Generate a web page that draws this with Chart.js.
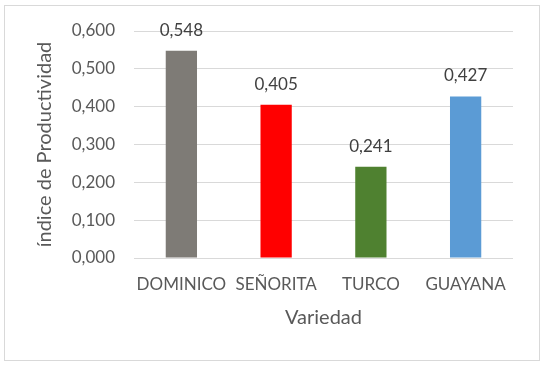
<!DOCTYPE html>
<html>
<head>
<meta charset="utf-8">
<script src="https://cdn.jsdelivr.net/npm/chart.js@4.4.1/dist/chart.umd.min.js"></script>
<style>
  html, body { margin: 0; padding: 0; background: #ffffff; }
  #grafico { display: block; }
</style>
</head>
<body>
<canvas id="grafico" width="549" height="365"></canvas>
<script>
// Datos
let variedades = ['DOMINICO', 'SEÑORITA', 'TURCO', 'GUAYANA'];
let indices = [0.548, 0.405, 0.241, 0.427];
let colores = ['#7e7b76', '#ff0000', '#4f8130', '#5b9bd5'];
let ticksY = [0, 0.1, 0.2, 0.3, 0.4, 0.5, 0.6];

let fuente = 'Lato, "Open Sans", sans-serif';

let formato = (v) => v.toFixed(3).replace('.', ',');

//Etiquetas encima de cada barra
let etiquetasBarras = {
  id: 'etiquetasBarras',
  afterDatasetsDraw(chart) {
    let ctx = chart.ctx;
    let meta = chart.getDatasetMeta(0);
    ctx.save();
    ctx.font = '17px ' + fuente;
    ctx.fillStyle = '#404040';
    ctx.textAlign = 'center';
    ctx.textBaseline = 'alphabetic';
    meta.data.forEach((bar, i) => {
      ctx.fillText(formato(indices[i]), bar.x, bar.y - 15);
    });
    ctx.restore();
  }
};

//Borde del área del gráfico
let borde = {
  id: 'borde',
  afterDraw(chart) {
    let ctx = chart.ctx;
    ctx.save();
    ctx.strokeStyle = '#d9d9d9';
    ctx.lineWidth = 1;
    ctx.strokeRect(4.5, 5.5, 535, 355);
    ctx.restore();
  }
};

let config = {
  type: 'bar',
  data: {
    labels: variedades,
    datasets: [{
      data: indices,
      backgroundColor: colores,
      borderWidth: 0,
      barPercentage: 0.33,
      categoryPercentage: 1
    }]
  },
  options: {
    responsive: false,
    animation: false,
    layout: { padding: { left: 0, right: 36, top: 31, bottom: 0 } },
    plugins: {
      legend: { display: false },
      tooltip: { enabled: false }
    },
    scales: {
      x: {
        grid: { display: false, drawTicks: false },
        border: { display: false },
        ticks: {
          color: '#595959',
          font: { family: fuente, size: 17 },
          padding: 16,
          maxRotation: 0,
          autoSkip: false
        },
        title: {
          display: true,
          text: 'Variedad',
          color: '#595959',
          font: { family: fuente, size: 20 },
          padding: { top: 0, bottom: 35 }
        },
        afterFit: (scale) => { scale.height = 365 - 258; }
      },
      y: {
        min: 0,
        max: 0.6,
        afterBuildTicks: (scale) => { scale.ticks = ticksY.map(v => ({ value: v })); },
        grid: { color: '#d9d9d9', lineWidth: 1, drawTicks: false },
        border: { display: false },
        ticks: {
          color: '#595959',
          font: { family: fuente, size: 17 },
          padding: 19,
          callback: (v) => formato(v)
        },
        title: {
          display: true,
          text: 'índice de Productividad',
          color: '#595959',
          font: { family: fuente, size: 20 },
          padding: { top: 33, bottom: 0 }
        },
        afterFit: (scale) => { scale.width = 134; }
      }
    }
  },
  plugins: [etiquetasBarras, borde]
};

let chart1 = new Chart(document.getElementById('grafico'), config);
</script>
</body>
</html>
